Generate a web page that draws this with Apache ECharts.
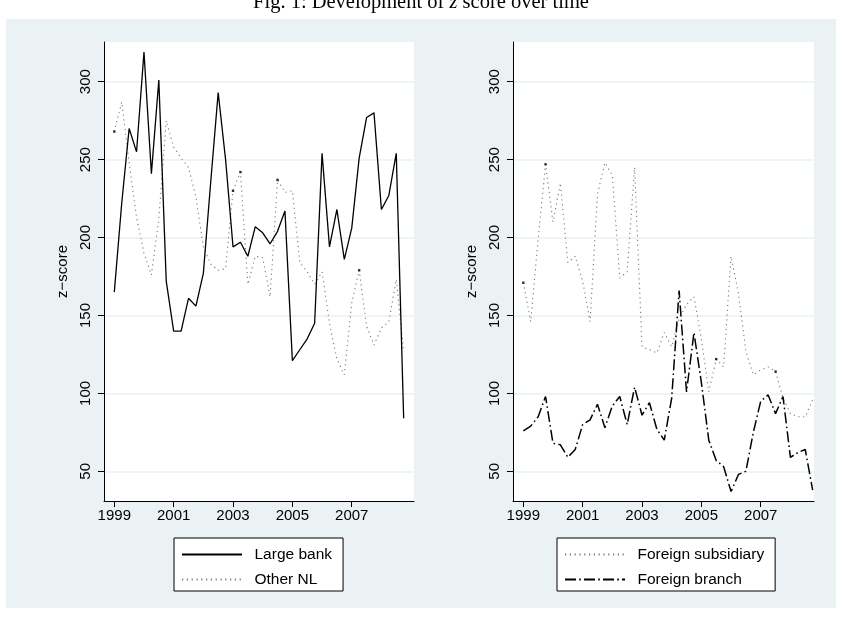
<!DOCTYPE html>
<html>
<head>
<meta charset="utf-8">
<title>Development of z-score over time</title>
<script src="https://cdn.jsdelivr.net/npm/echarts@6/dist/echarts.min.js"></script>
<style>
  html, body { margin: 0; padding: 0; background: #ffffff; }
  #chart { width: 842px; height: 621px; }
</style>
</head>
<body>
<div id="chart"></div>
<script>
// Quarterly observations, 1999q1 - 2008q4
const quarters = [
  '1999q1','1999q2','1999q3','1999q4','2000q1','2000q2','2000q3','2000q4',
  '2001q1','2001q2','2001q3','2001q4','2002q1','2002q2','2002q3','2002q4',
  '2003q1','2003q2','2003q3','2003q4','2004q1','2004q2','2004q3','2004q4',
  '2005q1','2005q2','2005q3','2005q4','2006q1','2006q2','2006q3','2006q4',
  '2007q1','2007q2','2007q3','2007q4','2008q1','2008q2','2008q3','2008q4'
];

// z-score by bank group
const largeBank = [165, 222, 270, 255, 319, 241, 301, 172, 140, 140, 161, 156, 177, 236, 293, 250,
                   194, 197, 188, 207, 203, 196, 204, 217, 121, 128, 135, 145, 254, 194, 218, 186,
                   206, 251, 277, 280, 218, 227, 254, 84];
const otherNL = [268, 287, 248, 213, 190, 176, 212, 275, 258, 251, 245, 226, 194, 183, 179, 180,
                 230, 242, 170, 188, 187, 162, 237, 229, 230, 184, 178, 170, 178, 145, 122, 112,
                 158, 179, 143, 131, 142, 146, 173, 127];
const foreignSubsidiary = [171, 146, 199, 247, 210, 235, 184, 188, 172, 146, 228, 248, 240, 174, 178, 245,
                           130, 128, 126, 139, 130, 148, 157, 162, 135, 101, 122, 117, 188, 164, 127, 112,
                           115, 117, 114, 97, 87, 85, 85, 96];
const foreignBranch = [76, 79, 85, 98, 68, 67, 59, 64, 80, 83, 93, 78, 92, 98, 80, 104,
                       86, 94, 77, 70, 97, 166, 101, 139, 107, 70, 57, 53, 37, 48, 50, 75,
                       95, 99, 87, 98, 59, 62, 64, 38];

// quarters where the dotted pattern leaves a visible vertex dot
const otherNLDots = [0, 16, 17, 22, 33];
const foreignSubsidiaryDots = [0, 3, 26, 34];

// axis ticks
const yearTicks = [1999, 2001, 2003, 2005, 2007];
const scoreTicks = [50, 100, 150, 200, 250, 300];

const BG = '#EAF2F3';
const SANS = 'Liberation Sans, Arial, Helvetica, sans-serif';
const SERIF = 'Liberation Serif, Times New Roman, serif';

const time = quarters.map(q => {
  const [y, n] = q.split('q');
  return Number(y) + (Number(n) - 1) / 4;
});
const pairs = vals => vals.map((v, i) => [time[i], v]);
const dots = (vals, idx) => idx.map(i => [time[i], vals[i]]);

function xAxisFor(gridIndex, max) {
  return {
    type: 'value', gridIndex, min: 1998.653, max,
    axisLine: { show: true, onZero: false, lineStyle: { color: '#000', width: 1 } },
    axisTick: { show: true, length: 6, customValues: yearTicks, lineStyle: { color: '#000', width: 1 } },
    axisLabel: { customValues: yearTicks, formatter: v => String(v),
                 fontSize: 15, fontFamily: SANS, color: '#000', margin: 7.5 },
    splitLine: { show: false }
  };
}
function yAxisFor(gridIndex) {
  return {
    type: 'value', gridIndex, min: 30.95, max: 325.47,
    name: 'z\u2212score', nameLocation: 'middle', nameGap: 34, nameRotate: 90,
    nameTextStyle: { fontSize: 15, fontFamily: SANS, color: '#000' },
    axisLine: { show: true, onZero: false, lineStyle: { color: '#000', width: 1 } },
    axisTick: { show: true, length: 6, customValues: scoreTicks, lineStyle: { color: '#000', width: 1 } },
    axisLabel: { customValues: scoreTicks, formatter: v => String(v), rotate: 90,
                 fontSize: 15, fontFamily: SANS, color: '#000', margin: 11 },
    splitLine: { show: true, lineStyle: { color: BG, width: 1.5 } }
  };
}
function legendFor(names, left) {
  return {
    data: names, orient: 'vertical', left, top: 538,
    itemWidth: 60, itemHeight: 14, itemGap: 9,
    padding: [8.5, 11, 3.5, 7],
    backgroundColor: '#fff', borderColor: '#000', borderWidth: 1, borderRadius: 0,
    itemStyle: { opacity: 0, borderWidth: 0 },
    textStyle: { fontSize: 15.5, fontFamily: SANS, color: '#000', padding: [0, 0, 0, 7.5] },
    selectedMode: false
  };
}

const solid = { color: '#000', width: 1.3, type: 'solid' };
const dotted = { color: '#7a7a7a', width: 1.1, type: [1.2, 3.6] };
const dashDot = { color: '#000', width: 1.5, type: [11, 3.2, 1.6, 3.2] };

const chart = echarts.init(document.getElementById('chart'), null, { renderer: 'canvas' });
chart.setOption({
  animation: false,
  backgroundColor: 'transparent',
  graphic: [
    { type: 'rect', z: -10, silent: true, shape: { x: 6, y: 19, width: 830, height: 589 }, style: { fill: BG } },
    {
      type: 'text', silent: true, x: 421, y: 3,
      style: {
        text: 'Fig. 1: Development of {it|z} score over time',
        fontFamily: SERIF, fontSize: 20.5, fill: '#000',
        align: 'center', verticalAlign: 'middle',
        rich: { it: { fontStyle: 'italic', fontFamily: SERIF, fontSize: 20.5 } }
      }
    }
  ],
  grid: [
    { left: 104, top: 42, width: 310, height: 459, show: true, backgroundColor: '#fff', borderWidth: 0 },
    { left: 513, top: 42, width: 301, height: 459, show: true, backgroundColor: '#fff', borderWidth: 0 }
  ],
  xAxis: [xAxisFor(0, 2009.098), xAxisFor(1, 2008.795)],
  yAxis: [yAxisFor(0), yAxisFor(1)],
  legend: [
    legendFor(['Large bank', 'Other NL'], 174),
    legendFor(['Foreign subsidiary', 'Foreign branch'], 557)
  ],
  series: [
    { name: 'Other NL', type: 'line', xAxisIndex: 0, yAxisIndex: 0, data: pairs(otherNL),
      symbol: 'none', color: dotted.color, lineStyle: dotted, z: 2 },
    { name: 'Large bank', type: 'line', xAxisIndex: 0, yAxisIndex: 0, data: pairs(largeBank),
      symbol: 'none', color: '#000', lineStyle: solid, z: 3 },
    { type: 'scatter', xAxisIndex: 0, yAxisIndex: 0, data: dots(otherNL, otherNLDots),
      symbol: 'rect', symbolSize: 2.4, itemStyle: { color: '#000' }, silent: true, z: 4 },
    { name: 'Foreign subsidiary', type: 'line', xAxisIndex: 1, yAxisIndex: 1, data: pairs(foreignSubsidiary),
      symbol: 'none', color: dotted.color, lineStyle: dotted, z: 2 },
    { name: 'Foreign branch', type: 'line', xAxisIndex: 1, yAxisIndex: 1, data: pairs(foreignBranch),
      symbol: 'none', color: '#000', lineStyle: dashDot, z: 3 },
    { type: 'scatter', xAxisIndex: 1, yAxisIndex: 1, data: dots(foreignSubsidiary, foreignSubsidiaryDots),
      symbol: 'rect', symbolSize: 2.4, itemStyle: { color: '#000' }, silent: true, z: 4 }
  ]
});
</script>
</body>
</html>
